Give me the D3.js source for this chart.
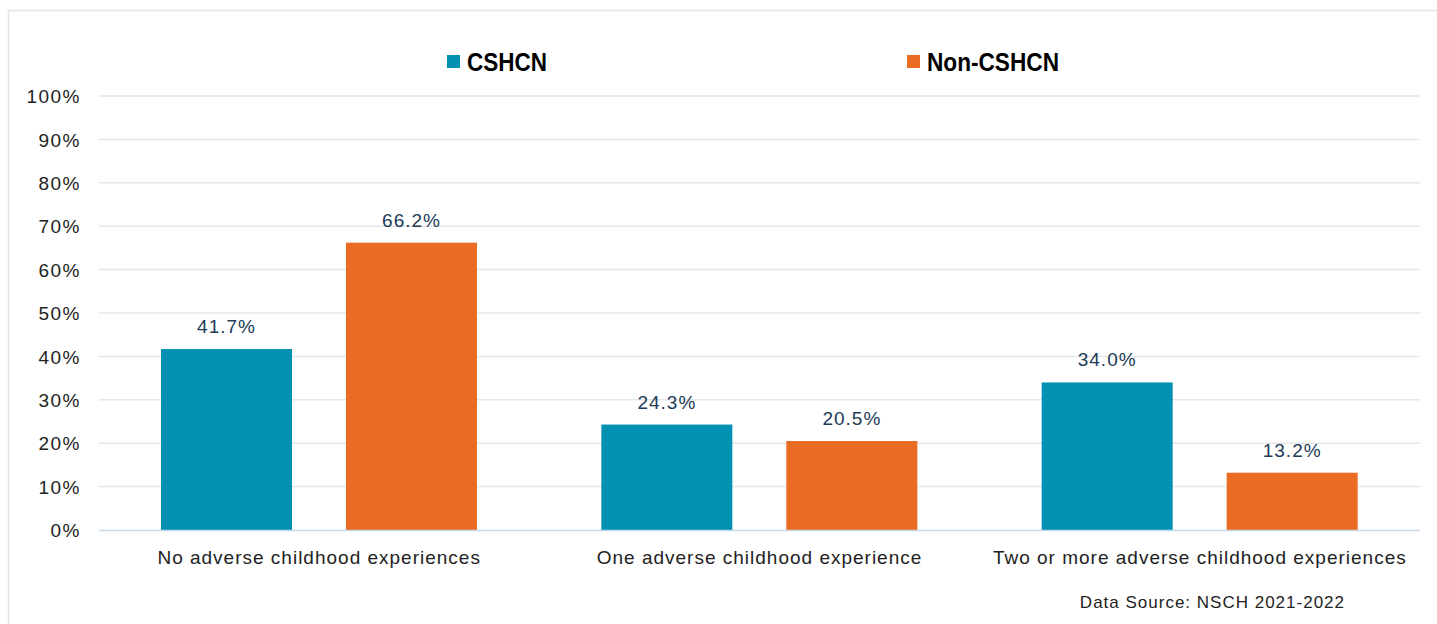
<!DOCTYPE html>
<html><head><meta charset="utf-8">
<script src="https://cdn.jsdelivr.net/npm/d3@7"></script>
<style>
body{margin:0;background:#fff;}
svg{display:block;}
</style></head>
<body>
<svg id="chart" width="1437" height="624"></svg>
<script>
const categories = ["No adverse childhood experiences","One adverse childhood experience","Two or more adverse childhood experiences"];
const seriesNames = ["CSHCN","Non-CSHCN"];
const cshcn = [41.7, 24.3, 34.0];
const nonCshcn = [66.2, 20.5, 13.2];
const yTicks = [0,10,20,30,40,50,60,70,80,90,100];
const colors = ["#0391b3","#ea6b22"];

(function(){
const svg = d3.select("#chart");
const font = "'Liberation Sans', Arial, sans-serif";

// outer border
svg.append("rect").attr("x",8.5).attr("y",10.5).attr("width",1440).attr("height",630)
  .attr("fill","none").attr("stroke","#e3e3e3").attr("stroke-width",1.5);

const pLeft=99, pRight=1420, pTop=96, pBottom=530;
const x0 = d3.scaleBand().domain(categories).range([pLeft,pRight]).paddingInner(0).paddingOuter(0);
const x1 = d3.scaleBand().domain(seriesNames).range([62, 62+316]).paddingInner(54/185).paddingOuter(0);
const y = d3.scaleLinear().domain([0,100]).range([pBottom,pTop]);

// gridlines
svg.append("g").selectAll("line").data(yTicks.filter(d=>d>0)).join("line")
  .attr("x1",pLeft).attr("x2",pRight).attr("y1",d=>y(d)).attr("y2",d=>y(d))
  .attr("stroke","#e6e6e6").attr("stroke-width",1.5);

// y labels
const yAxis = d3.axisLeft(y).tickValues(yTicks).tickFormat(d=>d+"%").tickSize(0).tickPadding(0);
const ga = svg.append("g").attr("transform",`translate(81,0)`).call(yAxis);
ga.select(".domain").remove();
ga.selectAll("text").attr("font-family",font).attr("font-size",19).attr("letter-spacing",1.5)
  .attr("fill","#222").attr("dy","0.35em");

// bars
const data = categories.map((c,i)=>({cat:c, vals:[{s:seriesNames[0],v:cshcn[i]},{s:seriesNames[1],v:nonCshcn[i]}]}));
const g = svg.append("g").selectAll("g").data(data).join("g")
  .attr("transform",d=>`translate(${x0(d.cat)},0)`);
g.selectAll("rect").data(d=>d.vals).join("rect")
  .attr("x",d=>x1(d.s)).attr("width",x1.bandwidth())
  .attr("y",d=>y(d.v)).attr("height",d=>pBottom-y(d.v))
  .attr("fill",(d,i)=>colors[i]);
g.selectAll("text.lbl").data(d=>d.vals).join("text").attr("class","lbl")
  .attr("x",d=>x1(d.s)+x1.bandwidth()/2).attr("y",d=>y(d.v)-16)
  .attr("text-anchor","middle").attr("font-family",font).attr("font-size",19).attr("letter-spacing",1)
  .attr("fill","#213a57").text(d=>d.v.toFixed(1)+"%");

// x axis line
svg.append("line").attr("x1",pLeft).attr("x2",pRight).attr("y1",pBottom+0.5).attr("y2",pBottom+0.5)
  .attr("stroke","#c5d9ee").attr("stroke-width",1.5);

// category labels
const xAxis = d3.axisBottom(x0).tickSize(0).tickPadding(0);
const gx = svg.append("g").attr("transform",`translate(0,${pBottom})`).call(xAxis);
gx.select(".domain").remove();
gx.selectAll("text").attr("font-family",font).attr("font-size",19).attr("letter-spacing",1).attr("fill","#222")
  .attr("y",34).attr("dy",0);

// legend
const leg = svg.append("g");
const legX = [447, 907];
const legW = [80, 132];
seriesNames.forEach((s,i)=>{
  leg.append("rect").attr("x",legX[i]).attr("y",55).attr("width",13).attr("height",13).attr("fill",colors[i]);
  leg.append("text").attr("x",legX[i]+20).attr("y",71).attr("font-family","'Liberation Sans Narrow', 'Arial Narrow', sans-serif")
    .attr("font-weight","bold").attr("font-size",25).attr("fill","#000")
    .attr("textLength",legW[i]).attr("lengthAdjust","spacingAndGlyphs").text(s);
});

// source
svg.append("text").attr("x",1345).attr("y",608).attr("text-anchor","end")
  .attr("font-family",font).attr("font-size",17).attr("letter-spacing",1).attr("fill","#222").text("Data Source: NSCH 2021-2022");
})();
</script>
</body></html>
